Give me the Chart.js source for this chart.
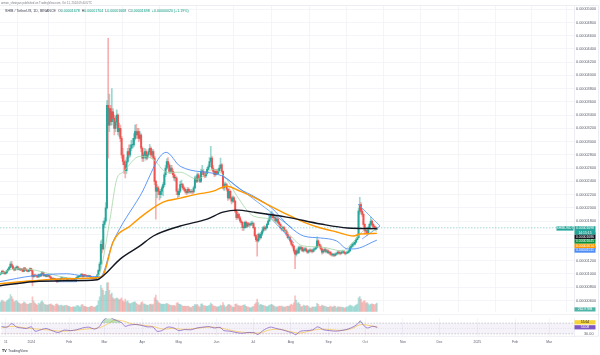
<!DOCTYPE html>
<html>
<head>
<meta charset="utf-8">
<script src="https://cdn.jsdelivr.net/npm/chart.js@4.4.1/dist/chart.umd.min.js"></script>
<style>
html, body { margin: 0; padding: 0; background: #fff; width: 600px; height: 355px; overflow: hidden; }
#main { position: absolute; left: 0; top: 0; }
#rsi { position: absolute; left: 0; top: 314px; }
</style>
</head>
<body>
<canvas id="main" width="600" height="316"></canvas>
<canvas id="rsi" width="600" height="41"></canvas>
<script>
// SHIB / TetherUS daily, prices in units of 0.00000001, day 0 = 1 Jan 2024
var firstDay = -25;          // 7 Dec 2023
var firstOpen = 985;

var closes = [
  1000,1010,1040,1030,1005,1020,1050,1070,1100,1150,1120,1080,1060,1090,1110,1070,1080,1060,1075,1040,1090,1070,1050,1040,1060,
  1080,1050,960,985,975,970,955,990,970,1000,1020,975,985,965,970,975,955,930,925,930,925,905,890,905,900,935,940,925,935,935,915,
  925,930,925,915,905,920,925,945,960,965,970,995,960,985,980,970,965,975,960,940,930,935,930,960,985,1050,1150,1450,1380,
  1750,1800,2000,3550,3250,3500,3300,3450,3350,3200,3300,3400,3150,3200,3050,2800,2700,2650,2560,2700,2850,2800,2900,2950,2950,3050,3150,3100,3150,3050,3100,
  2900,2750,2800,2850,2750,2800,2850,2900,2800,2850,2750,2400,2250,2300,2250,2200,2250,2300,2350,2500,2600,2700,2650,2550,2600,2550,2500,2450,2450,2250,
  2200,2250,2350,2350,2300,2280,2250,2230,2280,2250,2240,2250,2240,2300,2450,2400,2500,2450,2400,2550,2550,2500,2480,2520,2580,2620,2700,2750,2600,2550,2500,
  2550,2520,2560,2600,2650,2550,2300,2350,2350,2280,2150,2250,2150,2100,2150,2100,1950,1850,1900,1850,1800,1780,1700,1700,1780,1720,1760,1740,1750,1760,
  1760,1700,1580,1520,1500,1600,1550,1600,1650,1700,1680,1700,1750,1800,1850,1900,1900,1850,1850,1800,1830,1780,1750,1700,1680,1700,1650,1650,1600,1550,1550,
  1500,1450,1420,1350,1300,1350,1320,1400,1380,1400,1350,1370,1380,1350,1330,1350,1360,1350,1340,1370,1380,1400,1500,1450,1420,1380,1330,1350,1370,1340,1350,
  1320,1330,1300,1290,1290,1280,1300,1310,1330,1320,1310,1330,1340,1320,1310,1320,1330,1350,1400,1420,1450,1450,1480,1520,1550,1950,2050,1950,1900,1750,
  1650,1650,1620,1700,1750,1800,1750,1720,1700,1678,1698
];
var highs = [
  1015,1025,1055,1060,1040,1030,1060,1085,1115,1185,1190,1130,1095,1100,1125,1120,1095,1090,1085,1080,1100,1100,1080,1060,1070,
  1095,1090,1060,995,1000,990,980,1000,1000,1015,1040,1030,995,995,985,985,985,965,945,945,940,935,915,915,915,945,955,950,945,950,945,
  935,940,940,930,920,930,935,955,975,975,985,1010,1005,995,995,990,980,985,980,965,945,945,945,965,995,1065,1180,1500,1520,
  1800,1850,2080,3620,4560,3720,3550,3800,3500,3400,3380,3480,3420,3280,3250,3080,2900,2800,2720,2760,2900,2950,2950,3020,3050,3120,3250,3260,3200,3200,3150,
  3120,2920,2830,2900,2880,2830,2880,2960,2920,2880,2880,2780,2420,2350,2330,2280,2280,2330,2380,2530,2640,2740,2760,2680,2640,2640,2580,2540,2500,2470,
  2270,2290,2400,2420,2370,2330,2300,2270,2310,2300,2270,2280,2270,2330,2480,2480,2530,2520,2470,2580,2640,2580,2530,2550,2610,2650,2760,2930,2780,2640,2580,
  2580,2580,2590,2640,2750,2670,2560,2380,2390,2370,2290,2290,2270,2170,2180,2170,2110,1970,1930,1920,1870,1820,1790,1730,1800,1800,1780,1780,1770,1790,
  1800,1780,1710,1600,1540,1620,1620,1630,1670,1720,1730,1720,1770,1820,1880,1930,1950,1920,1880,1870,1850,1850,1800,1770,1730,1720,1720,1680,1670,1630,1580,
  1570,1520,1470,1430,1360,1380,1380,1420,1420,1420,1410,1390,1400,1400,1370,1370,1380,1380,1370,1390,1400,1420,1560,1520,1470,1440,1400,1370,1390,1390,1370,
  1370,1350,1340,1320,1310,1310,1320,1330,1350,1350,1330,1350,1360,1350,1330,1340,1350,1370,1420,1440,1470,1480,1510,1540,1580,1990,2160,2080,1980,1920,
  1760,1700,1680,1720,1770,1860,1820,1770,1740,1720,1704
];
var lows = [
  975,990,1000,1015,995,995,1010,1040,1060,1090,1105,1070,1045,1050,1080,1060,1060,1050,1055,1030,1035,1060,1040,1030,1030,
  1050,1040,820,945,960,955,945,950,955,960,990,965,965,955,955,960,945,920,910,915,915,895,870,880,890,895,925,915,915,925,905,
  905,915,915,905,895,900,915,920,940,950,955,965,950,955,970,960,955,960,950,935,920,925,920,925,955,980,1040,1140,1320,
  1360,1700,1780,1980,2750,3150,3250,3250,3300,3100,3150,3250,3100,3080,3000,2750,2650,2520,2450,2520,2680,2750,2770,2860,2900,2920,3020,3050,3050,3000,3020,
  2850,2700,2700,2760,2720,2730,2770,2820,2760,2770,2730,2350,1830,2150,2200,2120,2150,2200,2180,2320,2470,2580,2620,2520,2520,2520,2460,2410,2400,2200,
  2150,2170,2230,2310,2270,2250,2220,2200,2210,2220,2220,2220,2210,2220,2290,2380,2380,2430,2380,2380,2500,2470,2450,2460,2510,2570,2610,2680,2570,2520,2470,
  2480,2500,2500,2540,2590,2530,2280,2260,2320,2250,2110,2130,2130,2060,2080,2080,1930,1820,1830,1830,1780,1750,1660,1660,1690,1700,1700,1720,1720,1730,
  1730,1690,1560,1490,1270,1480,1520,1530,1580,1630,1660,1660,1690,1740,1790,1830,1860,1830,1810,1780,1780,1760,1730,1680,1650,1660,1640,1620,1580,1530,1520,
  1480,1430,1390,1320,1080,1270,1300,1310,1360,1360,1340,1330,1350,1340,1310,1310,1330,1330,1320,1330,1350,1370,1390,1430,1400,1360,1300,1310,1330,1320,1320,
  1310,1300,1280,1270,1270,1260,1270,1290,1300,1300,1290,1300,1320,1310,1290,1300,1310,1320,1340,1380,1410,1420,1440,1470,1510,1540,1900,1920,1870,1720,
  1600,1610,1580,1610,1690,1730,1720,1690,1670,1660,1668
];
// volume in billions of SHIB
var volumes = [
  280,300,350,320,310,290,330,360,400,520,460,380,300,320,340,300,260,240,230,250,300,270,240,220,230,
  260,250,450,320,260,230,200,260,240,300,330,280,220,210,200,210,220,240,210,190,160,220,240,210,180,200,190,170,180,190,190,
  170,160,140,130,150,150,140,180,190,160,140,200,220,170,160,150,130,130,150,170,160,140,130,160,190,330,450,800,700,
  650,500,620,870,880,650,520,560,420,380,400,420,400,360,380,420,330,300,380,300,330,260,240,260,280,290,300,260,220,200,210,
  280,300,240,230,210,200,190,220,230,210,230,420,500,350,300,260,240,220,230,220,240,250,230,210,200,190,180,190,170,260,
  280,230,220,200,170,160,170,160,170,160,130,120,160,170,220,200,220,180,140,230,240,190,180,170,160,180,200,260,220,180,170,
  160,140,150,160,200,180,280,200,140,160,210,220,200,180,140,130,220,240,200,180,180,160,190,200,210,160,150,140,120,120,
  150,160,230,270,380,280,200,220,200,190,180,170,150,170,200,210,220,190,170,150,150,150,170,160,180,150,140,140,160,170,160,
  200,230,200,270,480,350,260,280,220,150,160,200,180,170,190,160,120,110,140,150,140,150,250,220,160,160,200,180,170,160,140,
  130,140,170,150,140,170,160,120,150,150,140,140,130,120,110,140,150,170,200,180,170,140,180,200,230,420,460,380,280,320,
  340,260,280,240,200,230,240,220,210,230,263
];

// moving averages (day, price)
var ma200Days = [-25, 2.5, 30, 55, 60, 74, 90, 101, 123, 145, 158, 170, 183, 210, 238, 260, 284];
var ma200Vals = [822, 883, 898, 913, 973, 1228, 1424, 1574, 1725, 1830, 1935, 1965, 1935, 1860, 1755, 1695, 1686];
var ma100Days = [-25, 2.5, 30, 55, 60, 68, 82, 96, 109, 123, 137, 150, 161, 172, 183, 197, 210, 224, 238, 251, 265, 270, 284];
var ma100Vals = [852, 898, 928, 943, 988, 1484, 1725, 1935, 2086, 2146, 2206, 2251, 2326, 2251, 2161, 2026, 1905, 1785, 1695, 1635, 1574, 1604, 1614];
var ma50Days = [-25, 2.5, 30, 43, 55, 57.5, 68, 90, 111.5, 123, 158, 172, 183, 197, 213, 224, 238, 251, 260, 265, 284];
var ma50Vals = [883, 973, 1003, 973, 958, 958, 1484, 2176, 2838, 2627, 2477, 2281, 2176, 2011, 1710, 1574, 1544, 1499, 1379, 1379, 1511];
var ma20Days = [-25, -12, 2.5, 16, 30, 43, 55, 57.5, 65.5, 71, 76, 90, 101, 112, 123, 137, 150, 161, 169.5, 183, 196.5, 210, 223.5, 237.5, 256, 264.5, 276, 284];
var ma20Vals = [1003, 1078, 1063, 1003, 943, 928, 973, 1033, 1830, 2432, 2537, 2778, 2732, 2537, 2537, 2432, 2582, 2432, 2176, 1875, 1830, 1635, 1424, 1409, 1349, 1484, 1680, 1645];

// drawings on the chart
var chanUpDays = [157.2, 214.5], chanUpVals = [2492, 1695];
var chanLoDays = [193.3, 216.2], chanLoVals = [1920, 1469];
var triUpDays = [268.6, 286.6], triUpVals = [2056, 1725];
var triLoDays = [271.9, 286.6], triLoVals = [1529, 1725];
var rectDays = [22, 38, 38, 22, 22], rectVals = [928, 928, 883, 883, 928];

// RSI 14 and its moving average
var rsiDays = [-25,-20,-16,-12,-8,-4,0,3,7,12,17,22,27,32,37,42,47,52,56,59,62,64,66,70,74,77,80,85,90,95,100,103,107,112,117,121,126,131,136,141,146,150,155,158,163,168,173,178,183,186,190,196,201,206,211,215,217,221,226,231,235,240,245,250,255,260,265,268,270,273,276,280,284];
var rsiVals = [58,55,68,55,52,50,56,40,44,50,42,35,44,42,45,52,55,48,58,80,90,93,88,80,72,58,62,65,62,56,55,40,42,55,52,42,46,45,52,55,57,52,54,42,40,35,32,35,34,28,42,55,50,45,38,32,27,40,42,45,56,45,42,40,43,48,58,68,78,60,52,58,54.08];
var rsiMaDays = [-25,-15,-5,5,15,25,35,45,55,62,68,75,82,90,100,108,116,125,135,145,155,162,170,180,188,196,205,213,220,228,236,245,255,263,270,276,284];
var rsiMaVals = [52,58,52,48,44,40,43,48,52,65,80,78,68,63,57,48,50,47,50,55,52,45,38,34,34,45,46,38,33,40,47,46,43,50,64,62,55.64];

// axes
var priceTicks = [600,800,1000,1200,1400,1600,1800,2000,2200,2400,2600,2800,3000,3200,3400,3600,3800,4000,4200,4400,4600,4800,5000];
var monthTicks = [-21, 0, 31, 60, 91, 121, 152, 182, 213, 244, 274, 305, 335, 366, 397, 425];
var monthLabels = ['11','2024','Feb','Mar','Apr','May','Jun','Jul','Aug','Sep','Oct','Nov','Dec','2025','Feb','Mar'];
var rsiTicks = [30, 70];

var X_MIN = -24.57, X_MAX = 445.4;
var FONT = '"Liberation Sans", Arial, sans-serif';
var GRID = '#eff1f5';
var TXT = '#5f6270';

var days = closes.map(function (c, i) { return firstDay + i; });
var opens = closes.map(function (c, i) { return i === 0 ? firstOpen : closes[i - 1]; });
var up = closes.map(function (c, i) { return c >= opens[i]; });

function pts(xs, ys) { return xs.map(function (x, i) { return { x: x, y: ys[i] }; }); }
function line(xs, ys, color, width, extra) {
  var d = { type: 'line', data: pts(xs, ys), borderColor: color, borderWidth: width,
    pointRadius: 0, fill: false, cubicInterpolationMode: 'monotone', order: 0 };
  for (var k in extra) d[k] = extra[k];
  return d;
}

var axisBoxes = function (chart) {
  var ctx = chart.ctx;
  var y = chart.scales.y;
  var right = chart.chartArea.right;
  function box(top, h, bg, fg, lines, x0, w) {
    x0 = x0 || right + 0.5; w = w || 21;
    ctx.fillStyle = bg;
    ctx.fillRect(x0, top, w, h);
    ctx.fillStyle = fg;
    ctx.font = '3.4px ' + FONT;
    ctx.textAlign = 'center';
    ctx.textBaseline = 'middle';
    lines.forEach(function (t, i) { ctx.fillText(t, x0 + w / 2, top + h / lines.length * (i + 0.5)); });
  }
  ctx.save();
  var py = y.getPixelForValue(closes[closes.length - 1]);
  box(py - 1.6, 8.6, '#26a69a', '#fff', ['0.00001698', '14:15:15']);
  box(py - 1.6, 4.4, '#26a69a', '#fff', ['SHIBUSDT'], right - 17.5, 17);
  box(py + 7, 4.4, '#131722', '#fff', ['0.00001686']);
  box(py + 11.5, 4.4, '#0a8f3c', '#fff', ['0.00001645']);
  box(py + 16, 4.4, '#ff9800', '#fff', ['0.00001614']);
  box(py + 20.5, 4.4, '#4d8df5', '#fff', ['0.00001511']);
  box(307.3, 4.2, '#4fb5a8', '#fff', ['262.978B']);

  // header
  ctx.textAlign = 'left';
  ctx.textBaseline = 'middle';
  ctx.fillStyle = '#7a7d87';
  ctx.font = '2.8px ' + FONT;
  ctx.fillText('arman_shirinyan published on TradingView.com, Oct 11, 2024 09:44 UTC', 1, 2.8);
  ctx.font = '3.6px ' + FONT;
  var x = 5;
  var parts = [['SHIB / TetherUS, 1D, BINANCE  ', '#3a3e4a'], ['O', '#3a3e4a'], ['0.00001678  ', '#089981'],
    ['H', '#3a3e4a'], ['0.00001704  ', '#089981'], ['L', '#3a3e4a'], ['0.00001668  ', '#089981'],
    ['C', '#3a3e4a'], ['0.00001698  ', '#089981'], ['+0.00000020 (+1.19%)', '#089981']];
  parts.forEach(function (p) { ctx.fillStyle = p[1]; ctx.fillText(p[0], x, 11); x += ctx.measureText(p[0]).width; });

  // borders
  ctx.strokeStyle = '#e0e3eb';
  ctx.lineWidth = 0.6;
  ctx.beginPath();
  ctx.moveTo(0, 5.5); ctx.lineTo(598.5, 5.5);
  ctx.moveTo(598.5, 5.5); ctx.lineTo(598.5, 316);
  ctx.stroke();
  ctx.restore();
};

new Chart(document.getElementById('main'), {
  type: 'bar',
  data: {
    datasets: [
      line(ma200Days, ma200Vals, '#131722', 1.4),
      line(ma100Days, ma100Vals, '#ff9800', 1.4),
      line(ma50Days, ma50Vals, '#4d8df5', 0.9),
      line(ma20Days, ma20Vals, '#a5d6a7', 0.8),
      line(chanUpDays, chanUpVals, '#5b9cf6', 0.8, { cubicInterpolationMode: 'default', tension: 0 }),
      line(chanLoDays, chanLoVals, '#5b9cf6', 0.8, { cubicInterpolationMode: 'default', tension: 0 }),
      line(triUpDays, triUpVals, '#5b9cf6', 0.8, { cubicInterpolationMode: 'default', tension: 0 }),
      line(triLoDays, triLoVals, '#5b9cf6', 0.8, { cubicInterpolationMode: 'default', tension: 0 }),
      line(rectDays, rectVals, '#5b9cf6', 0.8, { cubicInterpolationMode: 'default', tension: 0 }),
      line([X_MIN, X_MAX], [closes[closes.length - 1], closes[closes.length - 1]], 'rgba(38,166,154,0.7)', 0.6,
        { cubicInterpolationMode: 'default', tension: 0, borderDash: [1.5, 1.5], order: 1 }),
      {
        type: 'bar', order: 2, grouped: false, barThickness: 1.3, minBarLength: 0.6,
        data: days.map(function (d, i) { return { x: d, y: [opens[i], closes[i]] }; }),
        backgroundColor: up.map(function (u) { return u ? '#26a69a' : '#ef5350'; })
      },
      {
        type: 'bar', order: 3, grouped: false, barThickness: 1,
        data: days.map(function (d, i) { return { x: d, y: [lows[i], highs[i]] }; }),
        backgroundColor: up.map(function (u) { return u ? 'rgba(38,166,154,0.45)' : 'rgba(239,83,80,0.45)'; })
      },
      {
        type: 'bar', order: 4, grouped: false, barThickness: 1, yAxisID: 'yVol',
        data: days.map(function (d, i) { return { x: d, y: volumes[i] }; }),
        backgroundColor: up.map(function (u) { return u ? 'rgba(38,166,154,0.35)' : 'rgba(239,83,80,0.35)'; })
      }
    ]
  },
  options: {
    responsive: false, animation: false, devicePixelRatio: 1,
    layout: { padding: { top: 6, bottom: 2, left: 0, right: 0 } },
    plugins: { legend: { display: false }, tooltip: { enabled: false } },
    scales: {
      x: {
        type: 'linear', min: X_MIN, max: X_MAX, offset: false,
        grid: { color: GRID, lineWidth: 0.7, drawTicks: false },
        border: { display: false },
        ticks: { display: false },
        afterBuildTicks: function (s) { s.ticks = monthTicks.map(function (v) { return { value: v }; }); },
        afterFit: function (s) { s.height = 0; }
      },
      y: {
        position: 'right', min: 430, max: 5049,
        grid: { color: GRID, lineWidth: 0.7, drawTicks: false },
        border: { color: '#e0e3eb', width: 0.6 },
        ticks: {
          autoSkip: false, padding: 2, color: TXT, font: { family: FONT, size: 3.8 },
          callback: function (v) { return (v / 1e8).toFixed(8); }
        },
        afterBuildTicks: function (s) { s.ticks = priceTicks.map(function (v) { return { value: v }; }); },
        afterFit: function (s) { s.width = 26; }
      },
      yVol: { display: false, min: 0, max: 9240 }
    }
  },
  plugins: [{ id: 'boxes', afterDraw: axisBoxes }]
});

var rsiDecor = {
  id: 'rsiDecor',
  beforeDatasetsDraw: function (chart) {
    var ctx = chart.ctx, a = chart.chartArea, y = chart.scales.y;
    var y70 = y.getPixelForValue(70), y30 = y.getPixelForValue(30), y50 = y.getPixelForValue(50);
    ctx.save();
    ctx.fillStyle = 'rgba(126,87,194,0.08)';
    ctx.fillRect(a.left, y70, a.right - a.left, y30 - y70);
    ctx.strokeStyle = 'rgba(120,123,134,0.75)';
    ctx.lineWidth = 0.5;
    ctx.setLineDash([1.5, 1.5]);
    ctx.beginPath();
    ctx.moveTo(a.left, y70); ctx.lineTo(a.right, y70);
    ctx.moveTo(a.left, y30); ctx.lineTo(a.right, y30);
    ctx.stroke();
    ctx.strokeStyle = 'rgba(120,123,134,0.35)';
    ctx.setLineDash([0.8, 1.6]);
    ctx.beginPath();
    ctx.moveTo(a.left, y50); ctx.lineTo(a.right, y50);
    ctx.stroke();
    ctx.restore();
  },
  afterDraw: function (chart) {
    var ctx = chart.ctx, a = chart.chartArea;
    ctx.save();
    function box(top, bg, fg, t) {
      ctx.fillStyle = bg;
      ctx.fillRect(a.right + 0.5, top, 21, 4.2);
      ctx.fillStyle = fg;
      ctx.font = '3.4px ' + FONT;
      ctx.textAlign = 'center';
      ctx.textBaseline = 'middle';
      ctx.fillText(t, a.right + 11, top + 2.1);
    }
    box(6.2, '#f5d33b', '#131722', '55.64');
    box(11.2, '#7e57c2', '#fff', '54.08');
    ctx.strokeStyle = '#e0e3eb';
    ctx.lineWidth = 0.6;
    ctx.beginPath();
    ctx.moveTo(0, 0.3); ctx.lineTo(598.5, 0.3);
    ctx.moveTo(0, a.bottom + 0.3); ctx.lineTo(598.5, a.bottom + 0.3);
    ctx.moveTo(598.5, 0); ctx.lineTo(598.5, a.bottom);
    ctx.stroke();
    ctx.textAlign = 'left';
    ctx.textBaseline = 'middle';
    ctx.fillStyle = '#131722';
    ctx.font = 'bold 3.6px ' + FONT;
    ctx.fillText('TV', 2, 36.5);
    ctx.font = '3.6px ' + FONT;
    ctx.fillStyle = '#3a3e4a';
    ctx.fillText('TradingView', 8, 36.5);
    ctx.restore();
  }
};

new Chart(document.getElementById('rsi'), {
  type: 'line',
  data: {
    datasets: [
      { data: pts(rsiDays, rsiVals), borderColor: '#7e57c2', borderWidth: 0.7, pointRadius: 0, tension: 0.3,
        fill: { target: { value: 70 }, above: 'rgba(76,175,80,0.35)', below: 'rgba(0,0,0,0)' } },
      { data: pts(rsiDays, rsiVals), borderColor: 'rgba(0,0,0,0)', borderWidth: 0, pointRadius: 0, tension: 0.3,
        fill: { target: { value: 30 }, above: 'rgba(0,0,0,0)', below: 'rgba(242,54,69,0.3)' } },
      { data: pts(rsiMaDays, rsiMaVals), borderColor: '#f5c542', borderWidth: 0.7, pointRadius: 0, tension: 0.4, fill: false }
    ]
  },
  options: {
    responsive: false, animation: false, devicePixelRatio: 1,
    layout: { padding: 0 },
    plugins: { legend: { display: false }, tooltip: { enabled: false } },
    scales: {
      x: {
        type: 'linear', min: X_MIN, max: X_MAX, offset: false,
        grid: { color: GRID, lineWidth: 0.7, drawTicks: false },
        border: { display: false },
        ticks: {
          autoSkip: false, maxRotation: 0, padding: 4, color: TXT, font: { family: FONT, size: 3.4 },
          callback: function (v, i) { return monthLabels[i]; }
        },
        afterBuildTicks: function (s) { s.ticks = monthTicks.map(function (v) { return { value: v }; }); },
        afterFit: function (s) { s.height = 19; }
      },
      y: {
        position: 'right', min: 22, max: 88,
        grid: { display: false },
        border: { color: '#e0e3eb', width: 0.6 },
        ticks: {
          autoSkip: false, padding: 2, color: TXT, font: { family: FONT, size: 3.8 },
          callback: function (v) { return v.toFixed(2); }
        },
        afterBuildTicks: function (s) { s.ticks = rsiTicks.map(function (v) { return { value: v }; }); },
        afterFit: function (s) { s.width = 26; }
      }
    }
  },
  plugins: [rsiDecor]
});
</script>
</body>
</html>
